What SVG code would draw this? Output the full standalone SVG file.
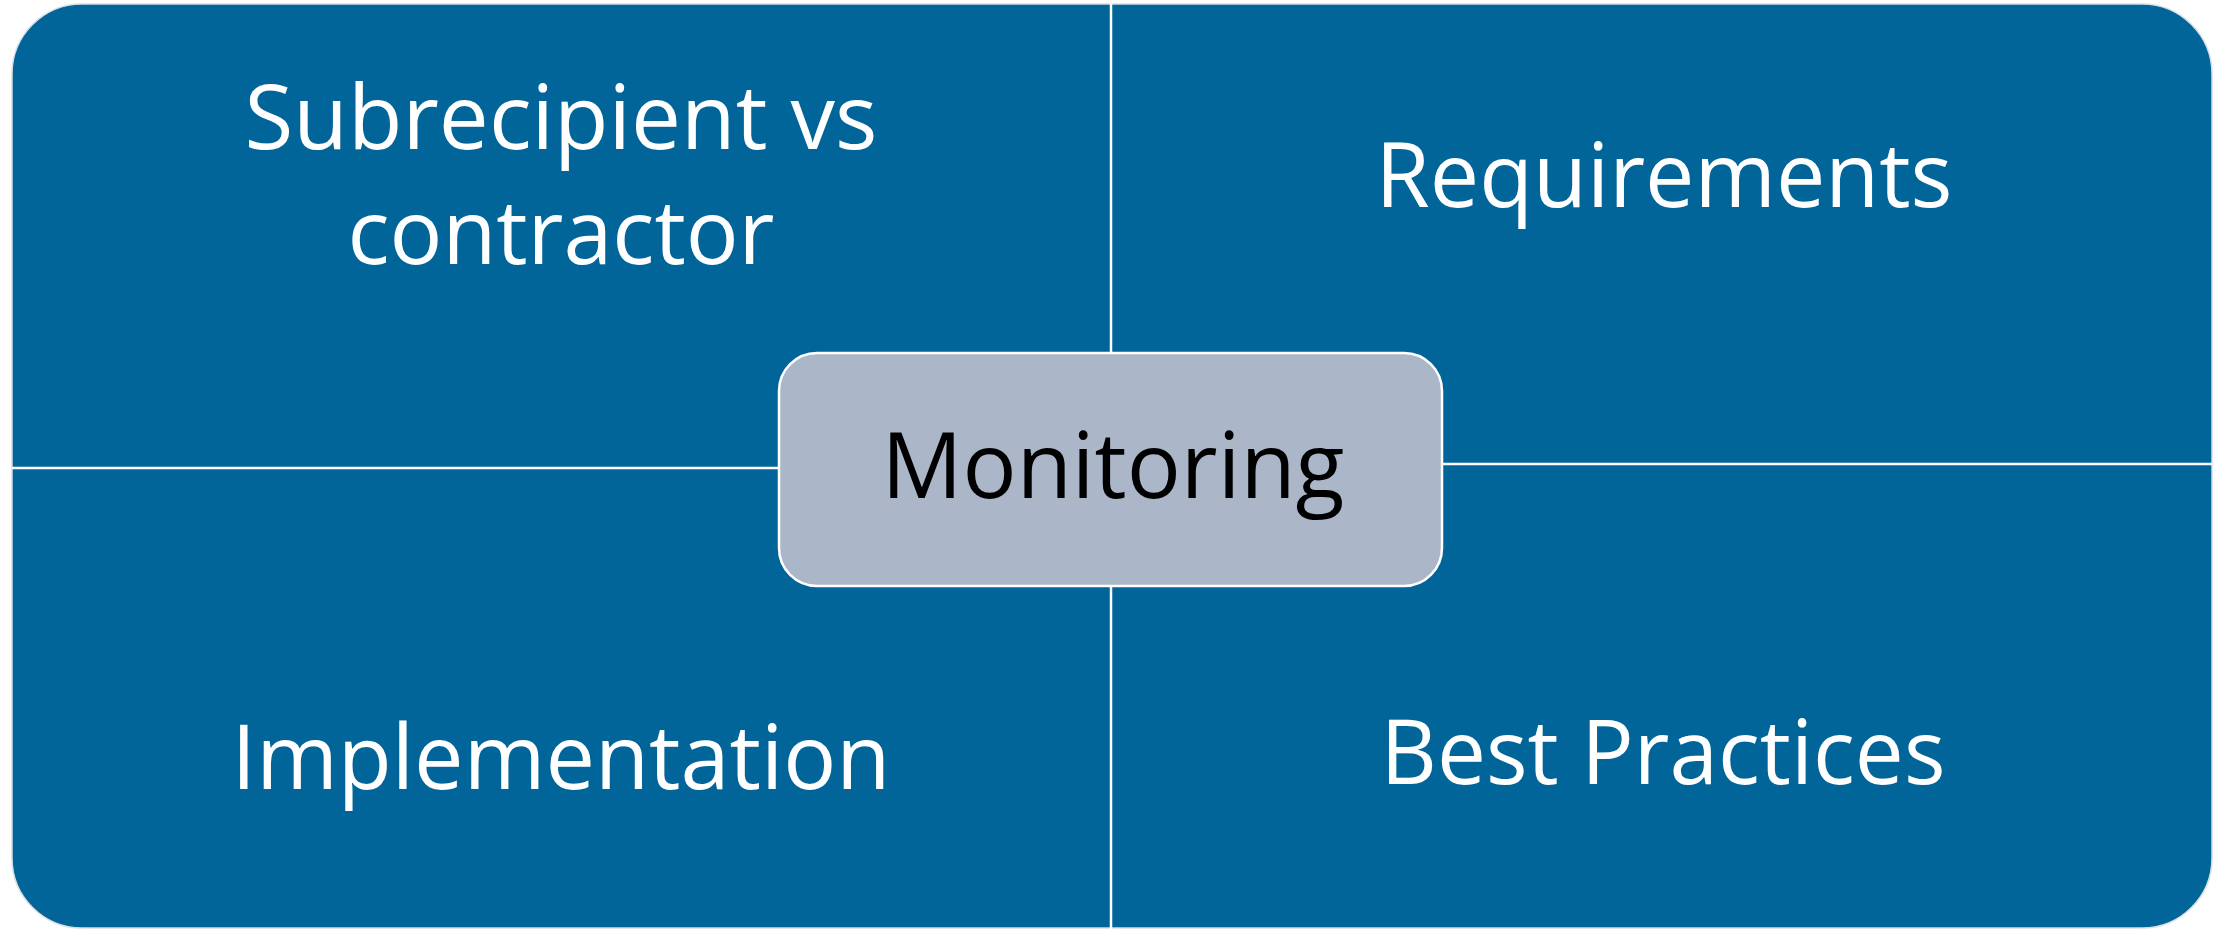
<svg xmlns="http://www.w3.org/2000/svg" width="2221" height="930" viewBox="0 0 2221 930">
  <style>
    .quad { fill: #02659A; }
    .lbl { font-family: "Open Sans", "Noto Sans", sans-serif; font-size: 90px; fill: #ffffff; text-anchor: middle; }
    .center-lbl { font-family: "Open Sans", "Noto Sans", sans-serif; font-size: 91px; fill: #000000; text-anchor: middle; }
    .divider { stroke: #ffffff; stroke-width: 2.5; fill: none; }
  </style>
  <rect x="0" y="0" width="2221" height="930" fill="#ffffff"/>
  <g id="background">
    <rect class="quad" x="12" y="4" width="2200" height="924" rx="70" ry="70" stroke="#d8dde3" stroke-width="1.5"/>
  </g>
  <g id="connectors">
    <line class="divider" x1="1111" y1="3" x2="1111" y2="353"/>
    <line class="divider" x1="1111" y1="586" x2="1111" y2="929"/>
    <line class="divider" x1="12" y1="468" x2="779" y2="468"/>
    <line class="divider" x1="1442" y1="464" x2="2212" y2="464"/>
  </g>
  <g id="node-subrecipient">
    <text class="lbl" x="561" y="149" textLength="633" lengthAdjust="spacingAndGlyphs">Subrecipient vs</text>
    <text class="lbl" x="561" y="264" textLength="427" lengthAdjust="spacingAndGlyphs">contractor</text>
  </g>
  <g id="node-requirements">
    <text class="lbl" x="1664" y="207" textLength="577" lengthAdjust="spacingAndGlyphs">Requirements</text>
  </g>
  <g id="node-implementation">
    <text class="lbl" x="561" y="789" textLength="659" lengthAdjust="spacingAndGlyphs">Implementation</text>
  </g>
  <g id="node-best-practices">
    <text class="lbl" x="1663" y="784" textLength="565" lengthAdjust="spacingAndGlyphs">Best Practices</text>
  </g>
  <g id="node-monitoring">
    <rect x="779" y="353" width="663" height="233" rx="38" ry="38" fill="#ABB7C9" stroke="#ffffff" stroke-width="2.5"/>
    <text class="center-lbl" x="1113" y="498" textLength="463" lengthAdjust="spacingAndGlyphs">Monitoring</text>
  </g>
</svg>
